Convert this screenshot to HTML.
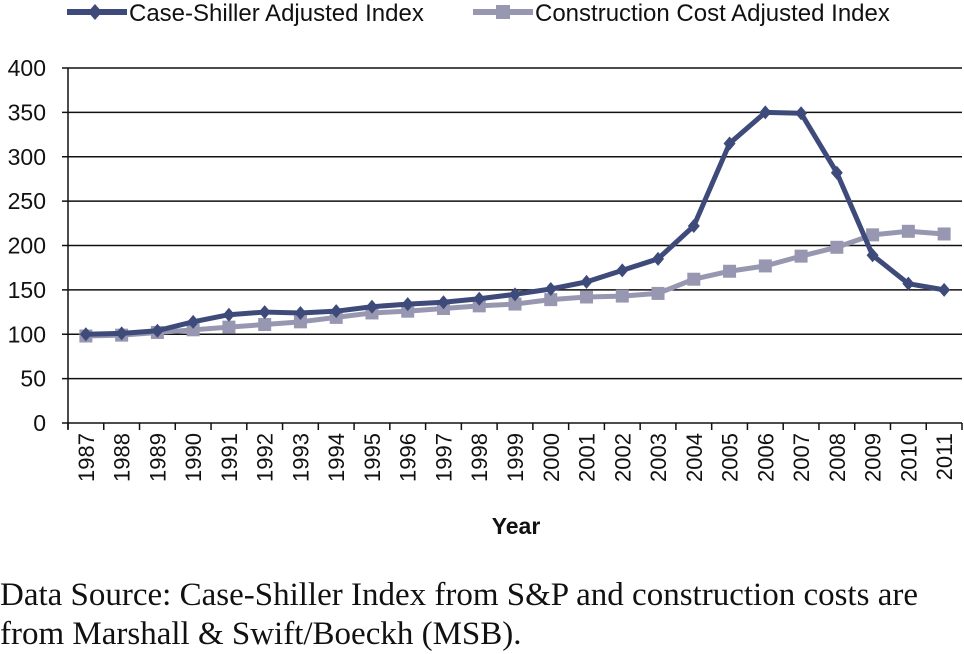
<!DOCTYPE html>
<html><head><meta charset="utf-8"><style>
body{margin:0;background:#fff;width:964px;height:653px;overflow:hidden;font-family:"Liberation Sans",sans-serif}
svg text{font-family:"Liberation Sans",sans-serif}
.cap{position:absolute;left:0;top:576px;font-family:"Liberation Serif",serif;font-size:33px;line-height:39px;color:#111;white-space:nowrap}
</style></head><body>
<svg id="chart" width="964" height="560" style="position:absolute;left:0;top:0"></svg>
<div class="cap">Data Source: Case-Shiller Index from S&amp;P and construction costs are<br>from Marshall &amp; Swift/Boeckh (MSB).</div>
<script>
const years=[1987,1988,1989,1990,1991,1992,1993,1994,1995,1996,1997,1998,1999,2000,2001,2002,2003,2004,2005,2006,2007,2008,2009,2010,2011];
const caseShiller=[100,101,104,114,122,125,124,126,131,134,136,140,145,151,159,172,185,222,315,350,349,282,189,157,150];
const constructionCost=[98,99,102,105,108,111,114,119,124,126,129,132,134,139,142,143,146,162,171,177,188,198,212,216,213];
const yTicks=[0,50,100,150,200,250,300,350,400];
const NS="http://www.w3.org/2000/svg";
const svg=document.getElementById('chart');
const X0=68,X1=962,Y0=423,Y1=68;
const step=(X1-X0)/years.length;
const xs=i=>X0+step*(i+0.5);
const ys=v=>Y0-(v/400)*(Y0-Y1);
function mk(t,a,p){const e=document.createElementNS(NS,t);for(const k in a)e.setAttribute(k,a[k]);(p||svg).appendChild(e);return e;}
yTicks.forEach(v=>{
 const g=mk('line',{x1:X0-6,x2:X1,y1:ys(v),y2:ys(v),stroke:'#111','stroke-width':1.5});
 
 
 const t=mk('text',{x:X0-22,y:ys(v)+8,'text-anchor':'end','font-size':23,fill:'#111'});
 t.textContent=v;
 
 
});
const ax=mk('line',{x1:X0,x2:X0,y1:Y1,y2:Y0+6,stroke:'#111','stroke-width':1.5});


for(let i=0;i<=years.length;i++){mk('line',{x1:X0+step*i,x2:X0+step*i,y1:Y0,y2:Y0+7,stroke:'#111','stroke-width':1.5});}
years.forEach((y,i)=>{
 const t=mk('text',{transform:`translate(${xs(i)+8},${Y0+10}) rotate(-90)`,'text-anchor':'end','font-size':22,fill:'#111'});
 t.textContent=y;
 
 
});
const xt=mk('text',{x:(X0+X1)/2+1,y:534,'text-anchor':'middle','font-size':23,'font-weight':'bold',fill:'#111'});
xt.textContent='Year';


function series(vals,color,marker,name){
 const pts=vals.map((v,i)=>xs(i)+','+ys(v)).join(' ');
 const l=mk('polyline',{points:pts,fill:'none',stroke:color,'stroke-width':5,'stroke-linejoin':'round'});
 
 
 vals.forEach((v,i)=>{
  let m;
  if(marker==='d'){const x=xs(i),y=ys(v);m=mk('polygon',{points:`${x},${y-7} ${x+6},${y} ${x},${y+7} ${x-6},${y}`,fill:color});}
  else m=mk('rect',{x:xs(i)-6.5,y:ys(v)-6.5,width:13,height:13,fill:color});
  
  
 });
}
series(constructionCost,'#9797b1','s','construction-cost');
series(caseShiller,'#3e4a79','d','case-shiller');
function legend(x,color,marker,label,name){
 const g=mk('g',{});
 
 
 mk('line',{x1:x,x2:x+60,y1:12,y2:12,stroke:color,'stroke-width':6},g);
 if(marker==='d')mk('polygon',{points:`${x+28},${4} ${x+35},12 ${x+28},20 ${x+21},12`,fill:color},g);
 else mk('rect',{x:x+23,y:5,width:14,height:14,fill:color},g);
 const t=mk('text',{x:x+62,y:21,'font-size':24,fill:'#111'},g);t.textContent=label;
}
legend(67,'#3e4a79','d','Case-Shiller Adjusted Index','legend-case-shiller');
legend(473,'#9797b1','s','Construction Cost Adjusted Index','legend-construction-cost');
</script>
</body></html>
